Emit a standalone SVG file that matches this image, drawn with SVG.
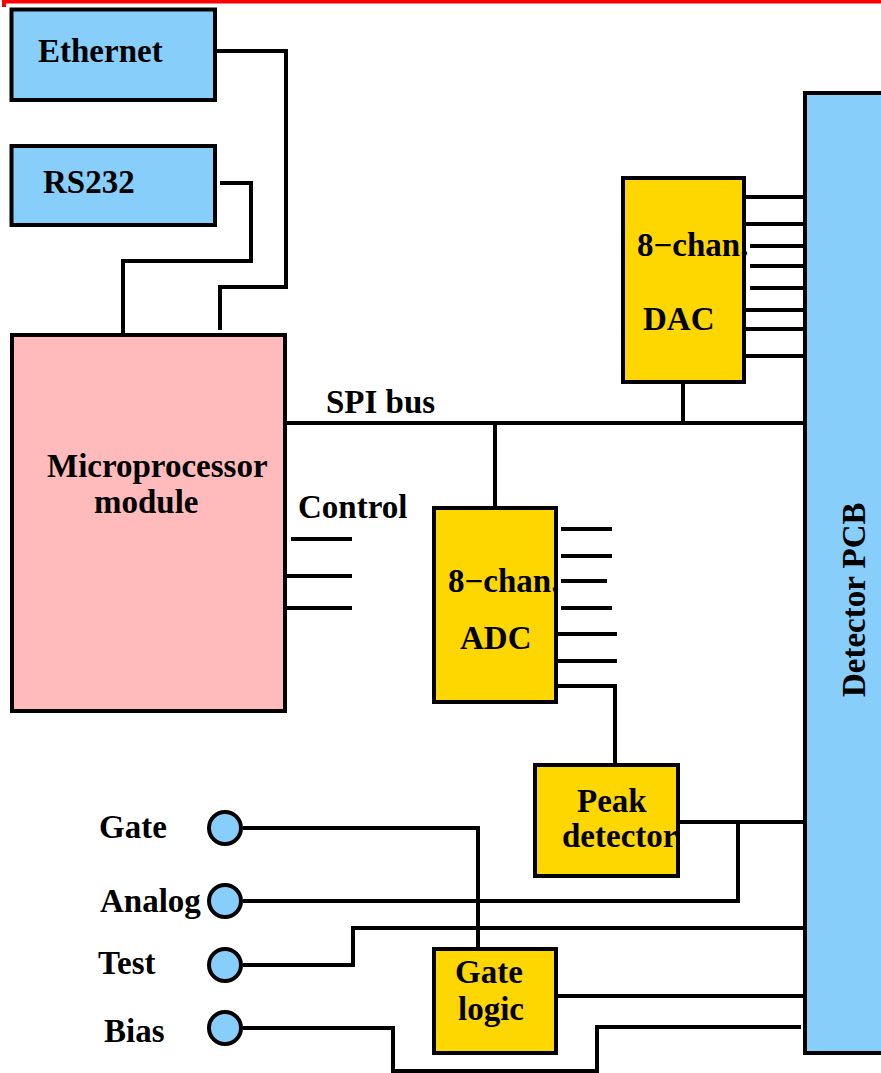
<svg xmlns="http://www.w3.org/2000/svg" width="881" height="1073" viewBox="0 0 881 1073">
<style>
.box{stroke:#000;stroke-width:4}
.blue{fill:#87CEFA}
.pink{fill:#FFBBBB}
.gold{fill:#FFD700}
.w{fill:none;stroke:#000;stroke-width:4}
text{font-family:"Liberation Serif","Times New Roman",serif;font-weight:bold;font-size:33px;fill:#000}
</style>
<rect x="2" y="0" width="879" height="3.5" fill="#FF0000"/>
<rect x="2" y="0" width="4" height="7" fill="#FF0000"/>
<g id="connectors">
<polyline class="w" points="217,51 286,51 286,287 220,287 220,330"/>
<polyline class="w" points="220,183 251,183 251,261 123,261 123,333"/>
<line class="w" x1="287" y1="423" x2="805" y2="423"/>
<line class="w" x1="683" y1="382" x2="683" y2="423"/>
<line class="w" x1="495" y1="423" x2="495" y2="507"/>
<line class="w" x1="746" y1="197" x2="805" y2="197"/>
<line class="w" x1="746" y1="224" x2="805" y2="224"/>
<line class="w" x1="750" y1="246" x2="805" y2="246"/>
<line class="w" x1="750" y1="266" x2="811" y2="266"/>
<line class="w" x1="750" y1="288" x2="805" y2="288"/>
<line class="w" x1="746" y1="310" x2="805" y2="310"/>
<line class="w" x1="746" y1="329" x2="805" y2="329"/>
<line class="w" x1="746" y1="356" x2="811" y2="356"/>
<line class="w" x1="561" y1="529" x2="612" y2="529"/>
<line class="w" x1="561" y1="556" x2="612" y2="556"/>
<line class="w" x1="561" y1="581" x2="607" y2="581"/>
<line class="w" x1="561" y1="608" x2="612" y2="608"/>
<line class="w" x1="556" y1="634" x2="617" y2="634"/>
<line class="w" x1="556" y1="661" x2="617" y2="661"/>
<polyline class="w" points="556,686 615,686 615,765"/>
<line class="w" x1="291" y1="539" x2="352" y2="539"/>
<line class="w" x1="287" y1="576" x2="352" y2="576"/>
<line class="w" x1="287" y1="608" x2="352" y2="608"/>
<line class="w" x1="678" y1="822" x2="805" y2="822"/>
<polyline class="w" points="243,901 738,901 738,822"/>
<polyline class="w" points="243,965 353,965 353,928 805,928"/>
<polyline class="w" points="243,828 478,828 478,949"/>
<line class="w" x1="556" y1="996" x2="805" y2="996"/>
<polyline class="w" points="243,1028 393,1028 393,1071 597,1071 597,1027 801,1027"/>
</g>
<g id="ethernet">
<rect class="box blue" x="11.5" y="9.5" width="203.5" height="90.5"/>
<text x="38" y="62">Ethernet</text>
</g>
<g id="rs232">
<rect class="box blue" x="11.5" y="146" width="203.5" height="79"/>
<text x="43" y="193">RS232</text>
</g>
<g id="microprocessor">
<rect class="box pink" x="12" y="335" width="273" height="376"/>
<text x="47" y="477">Microprocessor</text>
<text x="94" y="513">module</text>
</g>
<g id="spi-label"><text x="326" y="413">SPI bus</text></g>
<g id="control-label"><text x="298" y="518">Control</text></g>
<g id="dac">
<rect class="box gold" x="623" y="178" width="121" height="204"/>
<text x="637" y="256">8−chan.</text>
<text x="643" y="330">DAC</text>
</g>
<g id="adc">
<rect class="box gold" x="434" y="508" width="122" height="194"/>
<text x="448" y="592">8−chan.</text>
<text x="460" y="649">ADC</text>
</g>
<g id="peak-detector">
<rect class="box gold" x="535" y="765" width="143" height="111"/>
<text x="577" y="812">Peak</text>
<text x="562" y="847">detector</text>
</g>
<g id="gate-logic">
<rect class="box gold" x="434" y="949" width="122" height="104"/>
<text x="455" y="983">Gate</text>
<text x="458" y="1020">logic</text>
</g>
<g id="detector-pcb">
<rect class="box blue" x="805" y="93" width="100" height="960"/>
<text transform="translate(865,697) rotate(-90)">Detector PCB</text>
</g>
<g id="gate-input">
<circle class="box blue" cx="225" cy="828" r="16"/>
<text x="99" y="838">Gate</text>
</g>
<g id="analog-input">
<circle class="box blue" cx="225" cy="901" r="16"/>
<text x="100" y="912">Analog</text>
</g>
<g id="test-input">
<circle class="box blue" cx="225" cy="965" r="16"/>
<text x="98" y="974">Test</text>
</g>
<g id="bias-input">
<circle class="box blue" cx="225" cy="1028" r="16"/>
<text x="104" y="1042">Bias</text>
</g>
</svg>
